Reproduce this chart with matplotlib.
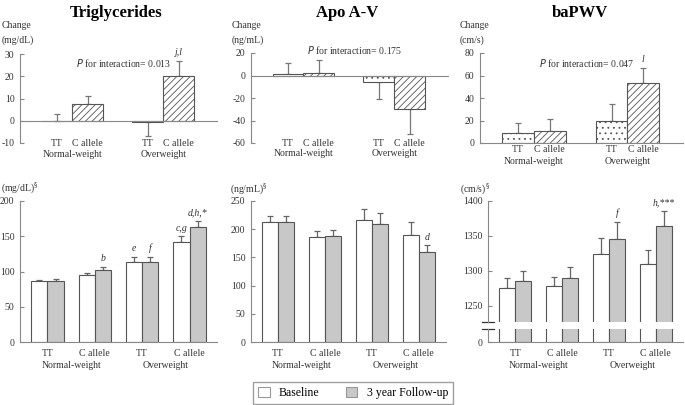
import matplotlib
matplotlib.use('Agg')
import matplotlib.pyplot as plt
from matplotlib.patches import Patch
from matplotlib import transforms

plt.rcParams['font.family'] = ['Liberation Serif', 'DejaVu Serif']
plt.rcParams['hatch.linewidth'] = 0.6
plt.rcParams['hatch.color'] = '#666666'
plt.rcParams['axes.unicode_minus'] = False

W, H = 685, 405

groups = ['Normal-weight', 'Overweight']
genotypes = ['TT', 'C allele', 'TT', 'C allele']

# changes after 3 years (top row): mean, SE
tg_chg = [0, 7.5, -0.5, 20]
tg_chg_se = [3, 3.5, 6.5, 7]
apo_chg = [1, 2, -6, -30]
apo_chg_se = [10, 11.5, 15, 22]
pwv_chg = [9, 11, 20, 53]
pwv_chg_se = [9, 10, 15, 14]

# baseline / follow-up (bottom row): mean, SE
tg_base = [86, 95, 114, 142]
tg_base_se = [2.5, 3, 7, 8]
tg_fu = [86, 102, 114, 163]
tg_fu_se = [3, 5, 7, 9]
apo_base = [212, 186, 216, 190]
apo_base_se = [12, 10, 20, 22]
apo_fu = [213, 188, 210, 160]
apo_fu_se = [11, 10, 19, 12]
pwv_base = [1276, 1279, 1324, 1310]
pwv_base_se = [14, 13, 23, 20]
pwv_fu = [1285, 1290, 1345, 1364]
pwv_fu_se = [15, 16, 25, 22]

# significance letters
tg_chg_note = ['', '', '', 'j,l']
pwv_chg_note = ['', '', '', 'l']
tg_base_note = ['', '', 'e', 'c,g']
tg_fu_note = ['', 'b', 'f', 'd,h,*']
apo_fu_note = ['', '', '', 'd']
pwv_fu_note = ['', '', 'f', 'h,***']

GREY = '#c8c8c8'
EDGE = '#555555'
SPINE = '#888888'
TXT = '#333333'
FS = 7

fig = plt.figure(figsize=(W / 100, H / 100), dpi=100)


def add_ax(x0, y0, x1, y1):
    return fig.add_axes([x0 / W, 1 - y1 / H, (x1 - x0) / W, (y1 - y0) / H])


def style(ax):
    for s in ['top', 'right']:
        ax.spines[s].set_visible(False)
    for s in ['left', 'bottom']:
        ax.spines[s].set_color(SPINE)
        ax.spines[s].set_linewidth(0.8)
    ax.tick_params(axis='y', direction='in', length=3, width=0.8, color=SPINE,
                   labelsize=FS, labelcolor=TXT, pad=4)
    ax.tick_params(axis='x', length=0, labelbottom=False)


def fig_text(ax, x, py, s, **kw):
    tr = transforms.blended_transform_factory(ax.transData, fig.transFigure)
    ax.text(x, 1 - py / H, s, transform=tr, ha='center', va='center',
            fontsize=FS, color=TXT, clip_on=False, **kw)


def errs(vals, se):
    lo = [e if v < 0 else 0 for v, e in zip(vals, se)]
    hi = [e if v >= 0 else 0 for v, e in zip(vals, se)]
    return [lo, hi]


# ---------- top row : changes ----------
top = [
    ('Triglycerides', 'Change\n(mg/dL)', tg_chg, tg_chg_se, (-10, 30), [-10, 0, 10, 20, 30],
     20, 217, 54, 143, 2, 'P for interaction= 0.013', 63, tg_chg_note, 144, 155),
    ('Apo A-V', 'Change\n(ng/mL)', apo_chg, apo_chg_se, (-60, 20), [-60, -40, -20, 0, 20],
     251, 448, 53, 143, 232, 'P for interaction= 0.175', 50, ['', '', '', ''], 143, 154),
    ('baPWV', 'Change\n(cm/s)', pwv_chg, pwv_chg_se, (0, 80), [0, 20, 40, 60, 80],
     480, 683, 53, 143, 460, 'P for interaction= 0.047', 63, pwv_chg_note, 150, 162),
]
pos_top = [0, 1, 2.95, 3.95]

for (title, ylab, vals, se, ylim, ticks, x0, x1, y0, y1, lx, ptxt, py, notes,
     gy, gry) in top:
    ax = add_ax(x0, y0, x1, y1)
    style(ax)
    ax.set_xlim(-1.2, 5.2)
    ax.set_ylim(*ylim)
    ax.set_yticks(ticks)
    ax.spines['bottom'].set_position(('data', 0))
    hatches = ['...', '/////', '...', '/////']
    ax.bar(pos_top, vals, width=1.0, color='white', edgecolor=EDGE, linewidth=0.8,
           hatch=hatches, zorder=2)
    ax.errorbar(pos_top, vals, yerr=errs(vals, se), fmt='none', ecolor='#777777',
                elinewidth=0.9, capsize=2.5, capthick=0.9, zorder=1)
    span = ylim[1] - ylim[0]
    for x, v, e, n in zip(pos_top, vals, se, notes):
        if n:
            ax.text(x, v + e + span * 0.04, n, ha='center', va='bottom', style='italic',
                    fontsize=FS, color=TXT)
    for x, g in zip(pos_top, genotypes):
        fig_text(ax, x, gy, g)
    fig_text(ax, 0.5, gry, groups[0])
    fig_text(ax, 3.45, gry, groups[1])
    fig.text((x0 + x1) / 2 / W - 0.003, 1 - 13 / H, title, ha='center', va='center',
             fontsize=12, fontweight='bold')
    fig.text(lx / W, 1 - 33 / H, ylab, ha='left', va='center', fontsize=FS,
             color=TXT, linespacing=1.6)
    fig.text(((x0 + x1) / 2 + 5) / W, 1 - py / H, ptxt.replace('P ', '$\\it{P}$ '),
             ha='center', va='center', fontsize=FS, color=TXT)

# ---------- bottom row : baseline vs follow-up ----------
pos = [0, 1, 2, 3]
bw = 0.34


def pair_bars(ax, base, base_se, fu, fu_se):
    xb = [p - bw / 2 for p in pos]
    xf = [p + bw / 2 for p in pos]
    ax.bar(xb, base, width=bw, color='white', edgecolor=EDGE, linewidth=0.8, zorder=2)
    ax.bar(xf, fu, width=bw, color=GREY, edgecolor=EDGE, linewidth=0.8, zorder=2)
    ax.errorbar(xb, base, yerr=[[0] * 4, base_se], fmt='none', ecolor='#666666',
                elinewidth=0.9, capsize=2.5, capthick=0.9, zorder=1)
    ax.errorbar(xf, fu, yerr=[[0] * 4, fu_se], fmt='none', ecolor='#666666',
                elinewidth=0.9, capsize=2.5, capthick=0.9, zorder=1)
    return xb, xf


def notes_on(ax, xs, vals, se, notes, off):
    for x, v, e, n in zip(xs, vals, se, notes):
        if n:
            ax.text(x, v + e + off, n, ha='center', va='bottom', style='italic',
                    fontsize=FS, color=TXT)


def bottom_labels(ax):
    for x, g in zip(pos, genotypes):
        fig_text(ax, x, 354, g)
    fig_text(ax, 0.5, 366, groups[0])
    fig_text(ax, 2.5, 366, groups[1])


# triglycerides
ax = add_ax(20, 201, 217, 342)
style(ax)
ax.set_xlim(-0.58, 3.58)
ax.set_ylim(0, 200)
ax.set_yticks([0, 50, 100, 150, 200])
xb, xf = pair_bars(ax, tg_base, tg_base_se, tg_fu, tg_fu_se)
notes_on(ax, xb, tg_base, tg_base_se, tg_base_note, 5)
notes_on(ax, xf, tg_fu, tg_fu_se, tg_fu_note, 5)
bottom_labels(ax)
fig.text(1 / W, 1 - 188 / H, '(mg/dL)$^{\\S}$', ha='left', va='center', fontsize=FS, color=TXT)

# apo A-V
ax = add_ax(251, 201, 446, 342)
style(ax)
ax.set_xlim(-0.58, 3.58)
ax.set_ylim(0, 250)
ax.set_yticks([0, 50, 100, 150, 200, 250])
xb, xf = pair_bars(ax, apo_base, apo_base_se, apo_fu, apo_fu_se)
notes_on(ax, xf, apo_fu, apo_fu_se, apo_fu_note, 6)
bottom_labels(ax)
fig.text(230 / W, 1 - 189 / H, '(ng/mL)$^{\\S}$', ha='left', va='center', fontsize=FS, color=TXT)

# baPWV, broken axis
ax = add_ax(488, 201, 683, 322)
style(ax)
ax.spines['bottom'].set_visible(False)
ax.set_xlim(-0.58, 3.58)
ax.set_ylim(1227, 1400)
ax.set_yticks([1250, 1300, 1350, 1400])
xb, xf = pair_bars(ax, pwv_base, pwv_base_se, pwv_fu, pwv_fu_se)
notes_on(ax, xf, pwv_fu, pwv_fu_se, pwv_fu_note, 5)
ax.plot([-0.03, 0.03], [0, 0], transform=ax.transAxes, color=TXT, lw=0.9, clip_on=False)

ax2 = add_ax(488, 329, 683, 342)
style(ax2)
ax2.set_xlim(-0.58, 3.58)
ax2.set_ylim(0, 10)
ax2.set_yticks([0])
pair_bars(ax2, pwv_base, pwv_base_se, pwv_fu, pwv_fu_se)
ax2.plot([-0.03, 0.03], [1, 1], transform=ax2.transAxes, color=TXT, lw=0.9, clip_on=False)
bottom_labels(ax2)
fig.text(460 / W, 1 - 189 / H, '(cm/s)$^{\\S}$', ha='left', va='center', fontsize=FS, color=TXT)

# legend
handles = [Patch(facecolor='white', edgecolor='#999999', linewidth=0.8),
           Patch(facecolor=GREY, edgecolor='#999999', linewidth=0.8)]
fig.legend(handles, ['Baseline', '3 year Follow-up'], loc='center',
           bbox_to_anchor=(353 / W, 1 - 393 / H), ncol=2, frameon=True, fancybox=False,
           edgecolor='#888888', fontsize=8.5, handlelength=1.0, handleheight=1.0,
           columnspacing=2.2, borderpad=0.4)

fig.savefig('out.png', dpi=100)
